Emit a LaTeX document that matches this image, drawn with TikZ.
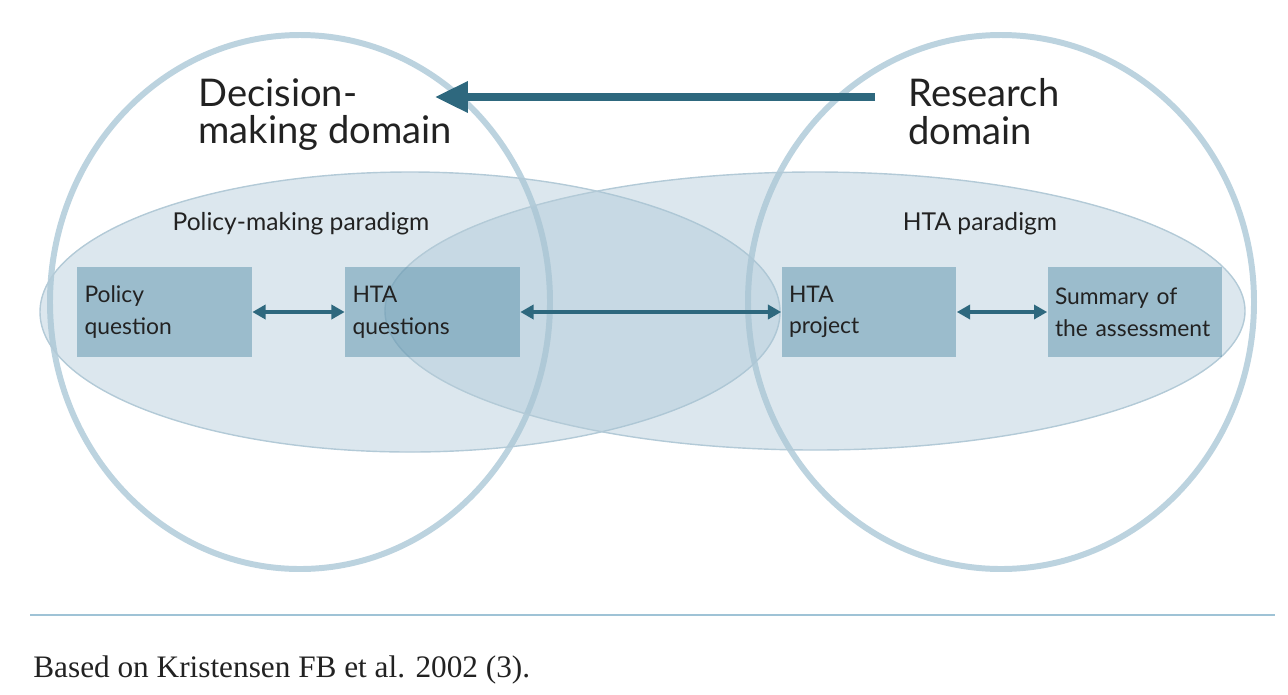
\documentclass[tikz,border=0pt]{standalone}
\usepackage{fontspec}
\setmainfont{Liberation Serif}
\newfontfamily\labelfont{Lato}
\usetikzlibrary{arrows.meta}
\definecolor{ringblue}{HTML}{BCD3DF}
\definecolor{paraline}{HTML}{B3CAD7}
\definecolor{parafill}{HTML}{A8C4D4}
\definecolor{boxfill}{RGB}{67,129,158}
\definecolor{arrowteal}{HTML}{2E687E}
\definecolor{ruleblue}{HTML}{9FC3D6}
\definecolor{textdark}{HTML}{222222}

\begin{document}
\begin{tikzpicture}[x=0.02cm,y=-0.02cm]
   \useasboundingbox (0,0) rectangle (1288,694);
   % domains
   \begin{scope}[line width=3.4pt,draw=ringblue]
    \draw (300,302) ellipse [x radius=250,y radius=267];
    \draw (1001,302) ellipse [x radius=253,y radius=267];
   \end{scope}
   % paradigms
   \begin{scope}[fill=parafill,fill opacity=0.4,draw=paraline,line width=0.8pt]
    \filldraw (410,312) ellipse [x radius=370,y radius=140];
    \filldraw (815,311) ellipse [x radius=430,y radius=139];
   \end{scope}
   \begin{scope}[every node/.style={rectangle,fill=boxfill,fill opacity=0.42,text opacity=1,
      text=textdark,minimum width=3.5cm,minimum height=1.8cm,text width=3.2cm,align=left,
      inner sep=0pt,font=\labelfont\fontsize{13}{18}\selectfont}]
    \node (pq) at (164.5,312) {Policy\\question};
    \node (hq) at (432.5,312) {HTA\\questions};
    \node (hp) at (869,312) {HTA\\project};
    \node (sa) at (1135,312) {Summary of\\the assessment};
   \end{scope}
   \begin{scope}[every node/.style={text=textdark,inner sep=0pt,font=\labelfont\fontsize{14}{16}\selectfont}]
    \node (pmp) at (301,224) {Policy-making paradigm};
    \node (htap) at (980,224) {HTA paradigm};
   \end{scope}
   \begin{scope}[every node/.style={text=textdark,inner sep=0pt,align=left,anchor=north west,
      font=\labelfont\fontsize{21.7}{21.5}\selectfont}]
    \node (dmd) at (198,78) {Decision-\\making domain};
    \node (rd) at (908,78) {Research\\domain};
   \end{scope}
   \coordinate (arrS) at (875,97);
   \coordinate (arrE) at (435,97);
   \draw[arrowteal,line width=4pt,-{Triangle[length=18.7pt,width=17pt]}] (arrS) -- (arrE);
   \begin{scope}[arrowteal,line width=1.8pt,{Triangle[length=7.5pt,width=8pt]}-{Triangle[length=7.5pt,width=8pt]}]
    \draw (pq) -- (hq);
    \draw (hq) -- (hp);
    \draw (hp) -- (sa);
   \end{scope}
   % source
   \coordinate (ruleL) at (30,615);
   \coordinate (ruleR) at (1275,615);
   \draw[ruleblue,line width=0.6pt] (ruleL) -- (ruleR);
   \node[anchor=base west,inner sep=0pt,text=textdark,font=\fontsize{17.8}{20}\selectfont] (src) at (33,677)
    {Based on Kristensen FB et al. 2002 (3).};
\end{tikzpicture}
\end{document}
